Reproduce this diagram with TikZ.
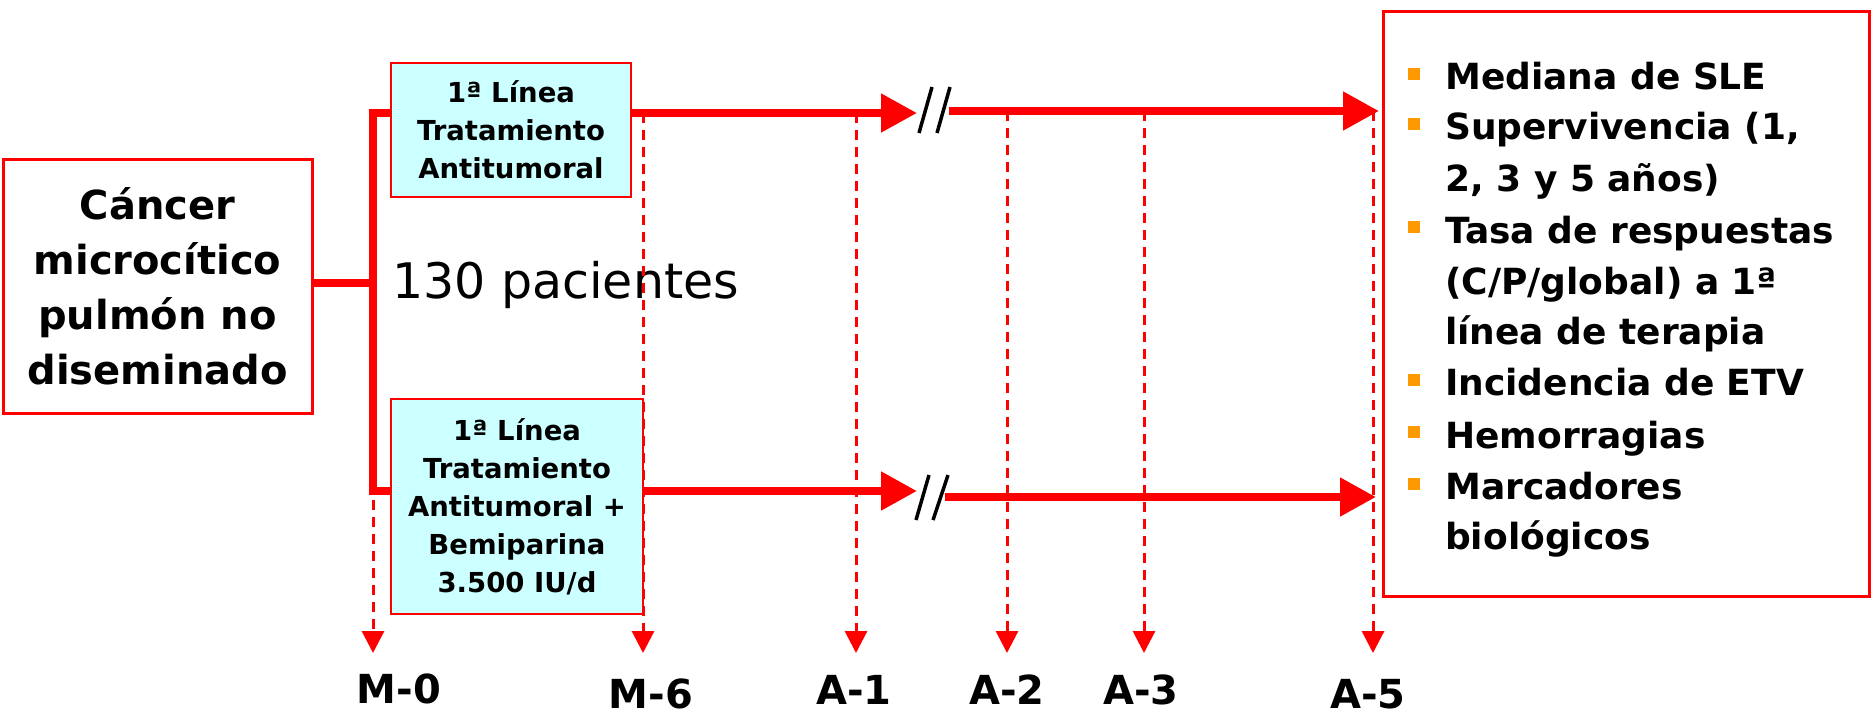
\documentclass[tikz,border=0pt]{standalone}
\usepackage{fontspec}
\setmainfont{DejaVu Sans}
\usetikzlibrary{arrows.meta}
\definecolor{lcyan}{RGB}{204,255,255}
\definecolor{borange}{RGB}{255,153,0}
\begin{document}
\begin{tikzpicture}[x=1pt,y=-1pt,
  redbox/.style={draw=red, line width=3pt, fill=white, inner sep=0pt},
  cybox/.style={draw=red, line width=2pt, fill=lcyan, inner sep=0pt, align=center,
    font=\fontsize{27.5}{38}\selectfont\bfseries},
  redline/.style={draw=red, line width=8pt, line join=miter},
  bigarrow/.style={draw=red, line width=8pt, -{Triangle[length=36pt,width=37pt]}},
  dashline/.style={draw=red, line width=3pt, dash pattern=on 10pt off 7pt,
    -{Triangle[length=22pt,width=22pt]}},
  breakmark/.style={draw=black, line width=3.5pt},
  lab/.style={font=\fontsize{40}{44}\selectfont\bfseries, inner sep=0pt},
  item/.style={font=\fontsize{36}{40}\selectfont\bfseries, inner sep=0pt, anchor=base west},
  bullet/.style={fill=borange}
]
\useasboundingbox (0,0) rectangle (1873,716);

% boxes
\node[redbox, minimum width=309pt, minimum height=254pt, align=center,
  font=\fontsize{40}{55}\selectfont\bfseries] (cancer) at (157.5,286)
  {Cáncer\\microcítico\\pulmón no\\diseminado};
\node[cybox, minimum width=240pt, minimum height=134pt] (t1) at (511,130)
  {1ª Línea\\Tratamiento\\Antitumoral};
\node[cybox, minimum width=252pt, minimum height=215pt] (t2) at (517,506.5)
  {1ª Línea\\Tratamiento\\Antitumoral +\\Bemiparina\\3.500 IU/d};
\node[redbox, minimum width=486pt, minimum height=585pt] (res) at (1626.5,304) {};

\node[font=\fontsize{49}{55}\selectfont, anchor=base west, inner sep=0pt] (pac) at (392,298) {130 pacientes};

% coordinates
\coordinate (bt) at (373,113);
\coordinate (bb) at (373,491);
\coordinate (s1) at (917,113);
\coordinate (s1b) at (949,111);
\coordinate (e1) at (1379,111);
\coordinate (s2) at (917,491);
\coordinate (s2b) at (945,497);
\coordinate (e2) at (1376,497);
\coordinate (tip) at (0,653);
\coordinate (xM0) at (373,0);
\coordinate (xM6) at (643,0);
\coordinate (xA1) at (856,0);
\coordinate (xA2) at (1007,0);
\coordinate (xA3) at (1144,0);
\coordinate (xA5) at (1373,0);

% bracket
\draw[redline] (cancer.east |- 0,283) -- (bt |- 0,283);
\draw[redline] (t1.west |- bt) -- (bt) -- (bb) -- (t2.west |- bb);

% dashed time lines
\draw[dashline] (xM0 |- 0,500) -- (xM0 |- tip);
\draw[dashline] (xM6 |- bt) -- (xM6 |- tip);
\draw[dashline] (xA1 |- bt) -- (xA1 |- tip);
\draw[dashline] (xA2 |- e1) -- (xA2 |- tip);
\draw[dashline] (xA3 |- e1) -- (xA3 |- tip);
\draw[dashline] (xA5 |- e1) -- (xA5 |- tip);

% main arrows
\draw[bigarrow] (t1.east |- bt) -- (s1);
\draw[bigarrow] (s1b) -- (e1);
\draw[bigarrow] (t2.east |- bb) -- (s2);
\draw[bigarrow] (s2b) -- (e2);

% break marks
\draw[breakmark] (919,133) -- (932,87) (937,133) -- (950,87);
\draw[breakmark] (916,520) -- (929,475) (933,520) -- (948,475);

% labels
\node[lab] (m0) at (399,689) {M-0};
\node[lab] (m6) at (651,694) {M-6};
\node[lab] (a1) at (854,690) {A-1};
\node[lab] (a2) at (1007,690) {A-2};
\node[lab] (a3) at (1141,690) {A-3};
\node[lab] (a5) at (1368,694) {A-5};

% result list
\node[item] (r1) at (1445,89) {Mediana de SLE};
\node[item] (r2) at (1445,139) {Supervivencia (1,};
\node[item] (r2b) at (1445,191) {2, 3 y 5 años)};
\node[item] (r3) at (1445,243) {Tasa de respuestas};
\node[item] (r3b) at (1445,294) {(C/P/global) a 1ª};
\node[item] (r3c) at (1445,344) {línea de terapia};
\node[item] (r4) at (1445,395) {Incidencia de ETV};
\node[item] (r5) at (1445,448) {Hemorragias};
\node[item] (r6) at (1445,499) {Marcadores};
\node[item] (r6b) at (1445,549) {biológicos};

\foreach \y in {74,124,227,380,432,484}
  \fill[bullet] (1408,\y-6) rectangle (1420,\y+6);
\end{tikzpicture}
\end{document}
